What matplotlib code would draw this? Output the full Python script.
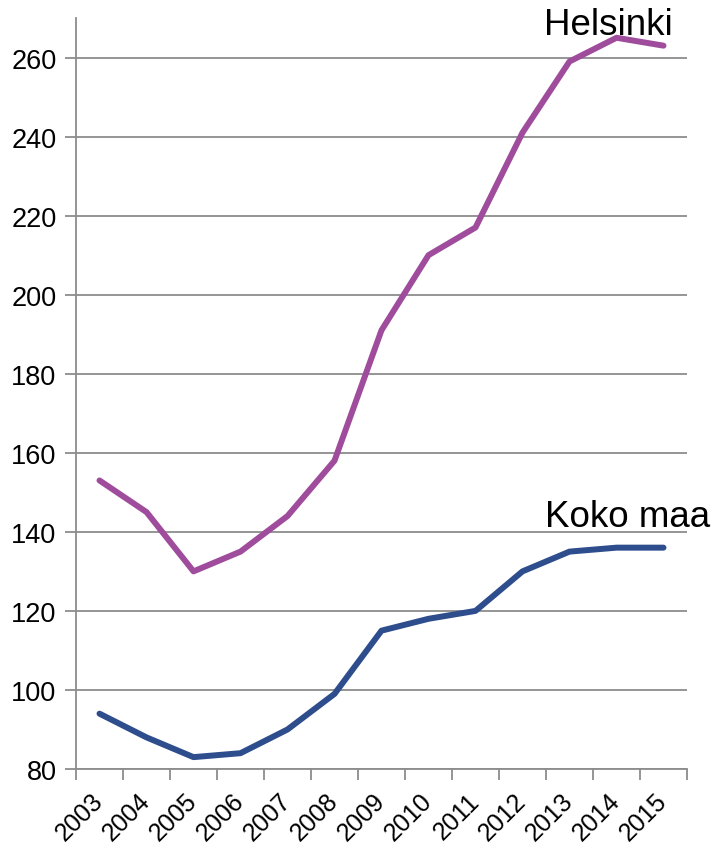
import matplotlib
matplotlib.use("Agg")
import matplotlib.pyplot as plt
import matplotlib.transforms as mtransforms
import numpy as np

years = ["2003", "2004", "2005", "2006", "2007", "2008", "2009", "2010",
         "2011", "2012", "2013", "2014", "2015"]
helsinki = [153, 145, 130, 135, 144, 158, 191, 210, 217, 241, 259, 265, 263]
koko_maa = [94, 88, 83, 84, 90, 99, 115, 118, 120, 130, 135, 136, 136]
yticks = [80, 100, 120, 140, 160, 180, 200, 220, 240, 260]

plt.rcParams['font.family'] = ['Liberation Sans', 'DejaVu Sans']

fig = plt.figure(figsize=(7.16, 8.45), dpi=100)
ax = fig.add_axes([76/716, 1-770/845, (687-76)/716, (770-19)/845])

x = np.arange(len(years))
grid_c = "#8C8C8C"
ax.plot(x, helsinki, color="#A04C9C", lw=4.3, solid_capstyle="round", solid_joinstyle="round", zorder=3)
ax.plot(x, koko_maa, color="#2E4D8C", lw=4.3, solid_capstyle="round", solid_joinstyle="round", zorder=3)

ax.set_xlim(-0.5, len(years) - 0.5)
ax.set_ylim(80, 270)
ax.set_yticks(yticks)
ax.set_yticklabels([str(v) for v in yticks], fontsize=19.5)
ax.yaxis.grid(True, color=grid_c, lw=1.3)
ax.set_axisbelow(True)

ax.set_xticks(x)
ax.set_xticklabels(years, fontsize=18, rotation=45, ha="right", va="center", rotation_mode="anchor")
shift = mtransforms.ScaledTranslation(-2/100, 0, fig.dpi_scale_trans)
for lbl in ax.get_xticklabels():
    lbl.set_transform(lbl.get_transform() + shift)
ax.set_xticks(np.arange(len(years) + 1) - 0.5, minor=True)
ax.tick_params(axis="x", which="major", length=0, pad=20)
ax.tick_params(axis="x", which="minor", length=8, width=1.3, color=grid_c)
ax.tick_params(axis="y", length=8, width=1.3, color=grid_c, pad=6)

for s in ["top", "right"]:
    ax.spines[s].set_visible(False)
for s in ["left", "bottom"]:
    ax.spines[s].set_color(grid_c)
    ax.spines[s].set_linewidth(1.3)

ax.text(12.2, 265.9, "Helsinki", fontsize=26.5, ha="right", va="baseline", clip_on=False)
ax.text(13.0, 141.4, "Koko maa", fontsize=26.5, ha="right", va="baseline", clip_on=False)

fig.savefig("out.png", dpi=100)
